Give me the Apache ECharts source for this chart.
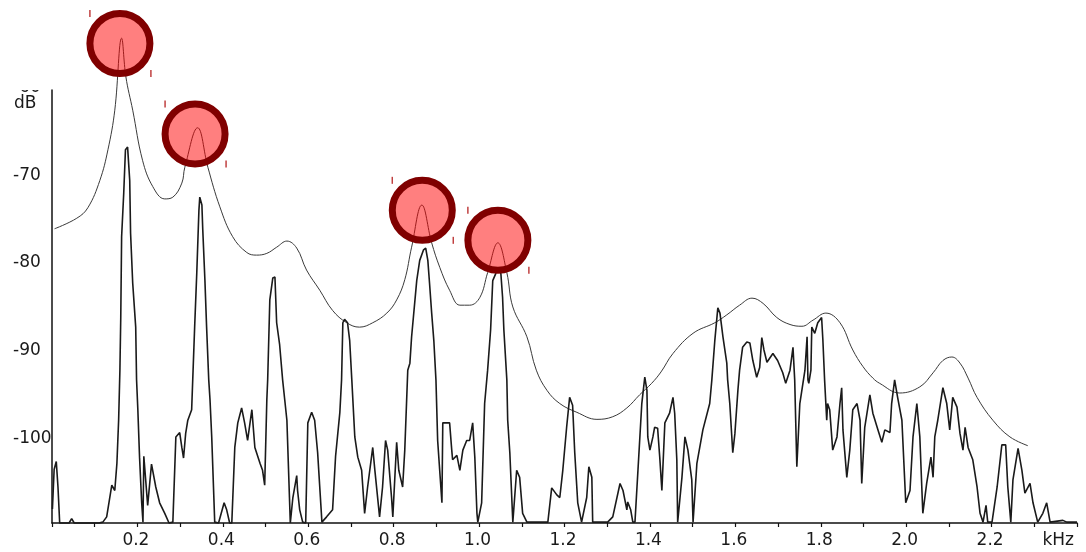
<!DOCTYPE html>
<html>
<head>
<meta charset="utf-8">
<script src="https://cdn.jsdelivr.net/npm/echarts@6/dist/echarts.min.js"></script>
<style>
  html, body { margin: 0; padding: 0; background: #fff; }
  #chart { width: 1086px; height: 552px; }
</style>
</head>
<body>
<div id="chart"></div>
<script>
// spectrum (kHz, dB)
const specFreq = [0.001,0.005,0.010,0.014,0.018,0.040,0.046,0.052,0.110,0.119,0.128,0.140,0.147,0.152,0.156,0.159,0.161,0.163,0.168,0.172,0.177,0.182,0.184,0.189,0.196,0.198,0.201,0.205,0.210,0.213,0.215,0.224,0.233,0.243,0.252,0.264,0.274,0.283,0.290,0.299,0.304,0.308,0.313,0.318,0.327,0.334,0.339,0.344,0.346,0.351,0.353,0.358,0.362,0.367,0.370,0.374,0.381,0.390,0.403,0.409,0.416,0.421,0.428,0.435,0.444,0.451,0.458,0.468,0.475,0.487,0.493,0.498,0.503,0.505,0.510,0.517,0.522,0.526,0.533,0.540,0.545,0.550,0.558,0.564,0.573,0.575,0.580,0.587,0.594,0.599,0.608,0.615,0.622,0.632,0.643,0.650,0.657,0.664,0.674,0.678,0.681,0.685,0.692,0.697,0.702,0.709,0.716,0.725,0.732,0.739,0.751,0.756,0.767,0.774,0.781,0.786,0.795,0.798,0.807,0.812,0.821,0.826,0.833,0.838,0.842,0.854,0.861,0.870,0.875,0.880,0.884,0.889,0.894,0.899,0.903,0.913,0.915,0.924,0.931,0.936,0.938,0.948,0.955,0.962,0.971,0.978,0.985,0.990,0.995,0.997,1.006,1.013,1.020,1.027,1.032,1.039,1.044,1.051,1.055,1.058,1.065,1.067,1.072,1.079,1.088,1.095,1.102,1.112,1.161,1.170,1.182,1.189,1.196,1.205,1.212,1.219,1.224,1.231,1.240,1.252,1.257,1.264,1.266,1.301,1.313,1.330,1.337,1.346,1.348,1.355,1.360,1.365,1.372,1.381,1.388,1.393,1.395,1.400,1.407,1.411,1.418,1.423,1.428,1.435,1.446,1.454,1.458,1.463,1.465,1.475,1.482,1.489,1.498,1.501,1.510,1.524,1.540,1.545,1.552,1.559,1.564,1.571,1.580,1.582,1.587,1.594,1.599,1.606,1.610,1.617,1.627,1.634,1.641,1.650,1.657,1.662,1.667,1.674,1.688,1.699,1.711,1.718,1.728,1.735,1.739,1.744,1.751,1.763,1.768,1.770,1.772,1.777,1.779,1.786,1.793,1.802,1.805,1.809,1.814,1.816,1.821,1.828,1.838,1.845,1.849,1.852,1.861,1.868,1.875,1.885,1.892,1.896,1.903,1.915,1.922,1.934,1.943,1.950,1.962,1.966,1.973,1.980,1.990,1.999,2.009,2.016,2.025,2.032,2.039,2.048,2.058,2.063,2.067,2.074,2.086,2.095,2.102,2.109,2.119,2.126,2.133,2.138,2.145,2.156,2.166,2.173,2.180,2.187,2.191,2.201,2.213,2.224,2.233,2.238,2.245,2.250,2.262,2.271,2.278,2.290,2.297,2.308,2.320,2.329,2.337,2.367,2.376,2.400];
const specLevel = [-108.0,-103.5,-102.6,-105.5,-109.6,-109.6,-109.1,-109.6,-109.6,-109.5,-108.9,-105.3,-105.9,-102.8,-97.9,-92.2,-86.2,-77.0,-72.0,-67.1,-66.8,-70.6,-76.6,-82.3,-87.3,-93.3,-96.7,-102.1,-107.3,-109.5,-102.0,-107.6,-102.9,-105.5,-107.3,-108.5,-109.6,-109.5,-99.8,-99.3,-101.0,-102.2,-99.4,-97.9,-96.7,-87.3,-81.1,-74.0,-72.5,-73.4,-76.2,-81.9,-87.3,-93.3,-95.6,-99.8,-109.5,-109.6,-107.3,-108.1,-109.6,-109.6,-101.0,-98.2,-96.5,-98.2,-100.2,-96.7,-101.0,-102.8,-103.6,-105.3,-95.6,-93.3,-84.2,-81.7,-81.6,-86.8,-89.3,-93.3,-95.6,-97.9,-109.6,-106.7,-104.2,-105.9,-108.1,-109.5,-109.6,-98.2,-97.0,-97.9,-101.6,-109.5,-108.9,-108.5,-108.1,-102.0,-97.0,-93.3,-86.8,-86.4,-86.8,-88.8,-93.3,-99.8,-102.1,-103.6,-108.5,-105.5,-101.0,-103.6,-108.9,-105.5,-100.2,-101.3,-106.7,-108.9,-100.4,-103.6,-105.5,-101.3,-92.2,-91.4,-88.4,-82.0,-79.7,-78.5,-78.3,-79.7,-82.3,-85.7,-88.8,-93.3,-100.2,-107.3,-98.2,-98.2,-98.2,-101.3,-102.4,-101.9,-103.6,-101.3,-100.2,-100.2,-98.2,-102.1,-108.5,-109.5,-107.3,-96.0,-92.2,-87.6,-82.0,-81.2,-80.5,-81.2,-83.9,-87.6,-93.3,-97.9,-101.6,-109.5,-103.6,-104.4,-108.5,-109.5,-109.5,-105.6,-106.4,-106.7,-103.6,-98.7,-95.3,-96.2,-101.6,-107.3,-109.5,-106.7,-103.2,-104.4,-109.5,-109.5,-108.9,-105.1,-105.9,-108.1,-107.2,-108.1,-109.5,-109.5,-103.6,-96.0,-93.0,-94.5,-99.8,-101.3,-99.8,-98.7,-98.8,-102.1,-105.9,-98.2,-97.1,-95.3,-97.1,-102.4,-109.5,-104.4,-99.8,-101.3,-104.7,-109.5,-102.8,-99.0,-96.0,-93.3,-88.8,-85.1,-85.7,-88.4,-91.4,-93.3,-96.0,-101.6,-99.4,-94.5,-92.2,-89.6,-89.0,-89.1,-91.1,-93.0,-91.9,-88.5,-89.9,-91.3,-90.3,-91.1,-92.5,-93.7,-92.2,-89.6,-93.3,-103.2,-96.0,-92.2,-88.4,-93.3,-93.7,-92.2,-87.3,-88.0,-86.8,-86.2,-88.8,-93.3,-97.9,-96.0,-96.7,-101.3,-99.8,-96.0,-94.2,-99.0,-104.4,-101.3,-96.7,-96.0,-97.9,-105.1,-98.7,-95.0,-97.1,-99.0,-100.4,-99.0,-99.3,-96.0,-93.3,-95.3,-97.9,-107.3,-105.9,-99.8,-96.0,-99.8,-108.5,-105.1,-102.1,-104.4,-99.8,-97.9,-94.2,-96.0,-99.0,-95.3,-96.4,-99.4,-101.3,-98.7,-101.0,-102.4,-105.5,-108.5,-109.5,-107.6,-109.5,-109.5,-105.5,-100.7,-100.7,-105.5,-109.5,-104.7,-101.1,-103.6,-106.2,-105.1,-107.3,-109.5,-108.5,-107.3,-109.5,-109.3,-109.5,-109.5];

// envelope (kHz, dB)
const envFreq = [0.006,0.058,0.084,0.112,0.131,0.147,0.163,0.173,0.189,0.212,0.236,0.264,0.283,0.304,0.311,0.341,0.365,0.393,0.423,0.456,0.479,0.503,0.526,0.550,0.573,0.596,0.627,0.657,0.690,0.720,0.751,0.784,0.807,0.826,0.842,0.866,0.889,0.908,0.931,0.955,0.978,1.002,1.020,1.044,1.065,1.079,1.112,1.134,1.159,1.189,1.229,1.276,1.313,1.346,1.376,1.404,1.426,1.454,1.501,1.552,1.580,1.610,1.639,1.665,1.697,1.728,1.756,1.782,1.812,1.845,1.875,1.899,1.922,1.938,1.985,2.032,2.063,2.086,2.107,2.126,2.145,2.166,2.203,2.243,2.285];
const envLevel = [-76.1,-74.9,-73.7,-70.6,-67.1,-62.6,-54.4,-58.8,-62.6,-68.3,-71.3,-72.7,-72.5,-70.9,-69.1,-64.6,-69.1,-73.6,-77.0,-78.8,-79.1,-78.9,-78.2,-77.5,-78.3,-80.8,-83.1,-85.4,-86.8,-87.3,-86.8,-85.7,-84.2,-81.9,-78.2,-73.4,-77.7,-80.5,-83.1,-84.8,-84.8,-83.9,-81.1,-77.7,-81.1,-85.0,-88.4,-92.2,-94.5,-96.0,-97.0,-97.8,-97.5,-96.5,-95.0,-93.7,-92.4,-90.3,-88.0,-86.8,-85.9,-84.8,-84.0,-84.6,-86.2,-87.0,-87.2,-86.5,-85.7,-86.8,-89.9,-91.8,-93.1,-93.7,-94.8,-94.1,-92.5,-91.1,-90.7,-91.4,-93.1,-95.3,-97.9,-99.8,-100.8];

// marked formant peaks
const peakFreq = [0.159, 0.335, 0.867, 1.044];
const peakLevel = [-55.0, -65.3, -74.0, -77.4];

const yLabelValues = [-100, -90, -80, -70];
const xLabelValues = [0.2, 0.4, 0.6, 0.8, 1.0, 1.2, 1.4, 1.6, 1.8, 2.0, 2.2, 2.4];

const chart = echarts.init(document.getElementById('chart'));

const spectrum = specFreq.map((f, i) => [f, specLevel[i]]);
const envelope = envFreq.map((f, i) => [f, envLevel[i]]);
const peaks = peakFreq.map((f, i) => [f, peakLevel[i]]);

const FONT = '"DejaVu Sans", Verdana, sans-serif';
const labelFont = {
  fontFamily: FONT,
  fontSize: 17,
  color: '#1a1a1a',
};

chart.setOption({
  animation: false,
  backgroundColor: '#fff',
  grid: { left: 52, right: 9, top: 90, bottom: 29 },
  xAxis: {
    type: 'value',
    min: 0,
    max: 2.4,
    interval: 0.1,
    splitLine: { show: false },
    axisLine: { show: true, lineStyle: { color: '#111', width: 1.5 } },
    axisTick: { show: true, length: 4, lineStyle: { color: '#111', width: 1.2 } },
    axisLabel: Object.assign({}, labelFont, {
      margin: 9,
      customValues: xLabelValues,
      alignMaxLabel: 'right',
      padding: [0, 3, 0, 0],
      formatter: v => (Math.abs(v - 2.4) < 1e-6 ? 'kHz' : v.toFixed(1)),
    }),
  },
  yAxis: {
    type: 'value',
    min: -109.6,
    max: -60.3,
    splitLine: { show: false },
    axisLine: { show: true, lineStyle: { color: '#111', width: 1.5 } },
    axisTick: { show: false },
    axisLabel: Object.assign({}, labelFont, {
      margin: 39,
      align: 'left',
      customValues: yLabelValues,
      formatter: v => String(v),
    }),
  },
  graphic: [
    // top label, only its lower edge shows in the original
    {
      type: 'text',
      left: 13,
      top: 79,
      z: 10,
      style: { text: '-60', font: '17px ' + FONT, fill: '#1a1a1a' },
    },
    {
      type: 'rect',
      shape: { x: 0, y: 0, width: 50, height: 90 },
      style: { fill: '#fff' },
      z: 11,
    },
    {
      type: 'text',
      left: 14,
      top: 95,
      z: 10,
      style: { text: 'dB', font: '17px ' + FONT, fill: '#1a1a1a' },
    },
  ],
  series: [
    {
      name: 'envelope',
      type: 'line',
      data: envelope,
      smooth: 0.4,
      symbol: 'none',
      clip: false,
      lineStyle: { color: '#3a3a3a', width: 1 },
      z: 2,
    },
    {
      name: 'spectrum',
      type: 'line',
      data: spectrum,
      symbol: 'none',
      clip: false,
      lineStyle: { color: '#1a1a1a', width: 1.6 },
      z: 3,
    },
    {
      name: 'peaks',
      type: 'scatter',
      data: peaks,
      symbol: 'circle',
      symbolSize: 60,
      clip: false,
      itemStyle: {
        color: 'rgba(255, 0, 0, 0.5)',
        borderColor: '#800000',
        borderWidth: 7,
        opacity: 1,
      },
      z: 5,
    },
    {
      name: 'peak-mark-left',
      type: 'scatter',
      data: peaks,
      symbol: 'rect',
      symbolSize: [1.5, 7],
      symbolOffset: [-30, -30],
      clip: false,
      itemStyle: { color: '#b01010' },
      z: 5,
    },
    {
      name: 'peak-mark-right',
      type: 'scatter',
      data: peaks,
      symbol: 'rect',
      symbolSize: [1.5, 7],
      symbolOffset: [31, 30],
      clip: false,
      itemStyle: { color: '#b01010' },
      z: 5,
    },
  ],
});
</script>
</body>
</html>
